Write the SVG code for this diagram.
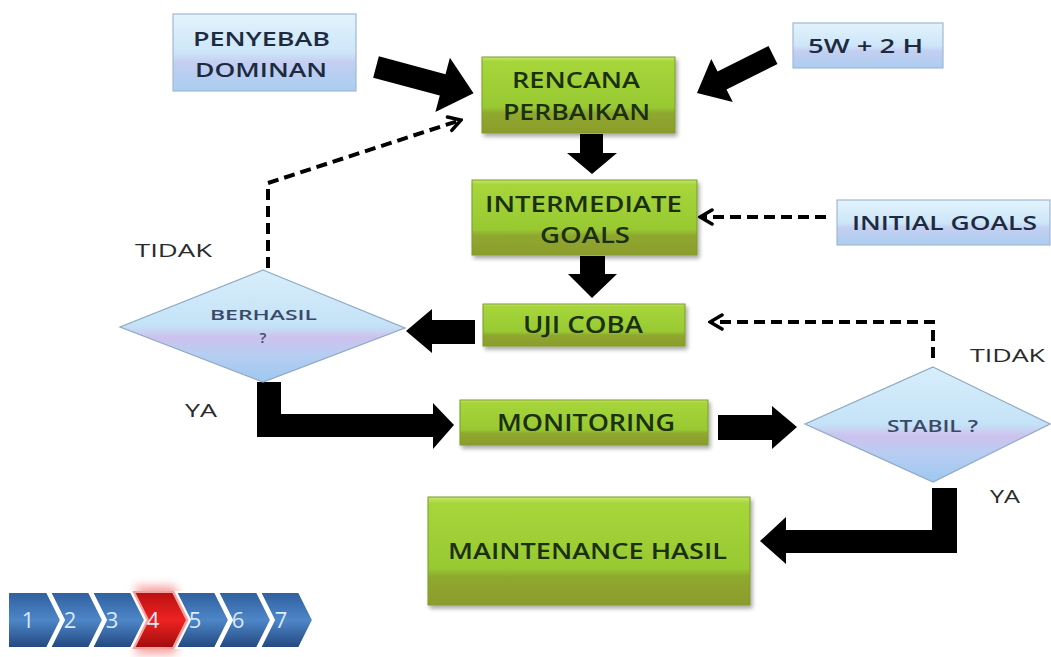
<svg xmlns="http://www.w3.org/2000/svg" width="1051" height="657" viewBox="0 0 1051 657">
<defs>
<linearGradient id="gGreen" x1="0" y1="0" x2="0" y2="1">
<stop offset="0" stop-color="#c6e86a"/>
<stop offset="0.06" stop-color="#a6d63a"/>
<stop offset="0.66" stop-color="#98c932"/>
<stop offset="0.74" stop-color="#8fa82e"/>
<stop offset="1" stop-color="#8c9c2c"/>
</linearGradient>
<linearGradient id="gBlue" x1="0" y1="0" x2="0" y2="1">
<stop offset="0" stop-color="#e2f3fc"/>
<stop offset="0.5" stop-color="#cde6f8"/>
<stop offset="0.62" stop-color="#c4cff2"/>
<stop offset="1" stop-color="#aacdf0"/>
</linearGradient>
<linearGradient id="gDia" x1="0" y1="0" x2="0" y2="1">
<stop offset="0" stop-color="#d8eefb"/>
<stop offset="0.5" stop-color="#c4e2f7"/>
<stop offset="0.6" stop-color="#cdc2ee"/>
<stop offset="0.75" stop-color="#b8cdf2"/>
<stop offset="1" stop-color="#9ec8f0"/>
</linearGradient>
<linearGradient id="gChev" x1="0" y1="0" x2="0" y2="1">
<stop offset="0" stop-color="#2f5f9e"/>
<stop offset="0.5" stop-color="#4d86c8"/>
<stop offset="1" stop-color="#22477e"/>
</linearGradient>
<linearGradient id="gRed" x1="0" y1="0" x2="0" y2="1">
<stop offset="0" stop-color="#b81010"/>
<stop offset="0.5" stop-color="#ee2222"/>
<stop offset="1" stop-color="#a00c0c"/>
</linearGradient>
<filter id="shadow" x="-10%" y="-20%" width="125%" height="150%">
<feGaussianBlur in="SourceAlpha" stdDeviation="2"/>
<feOffset dx="2" dy="3"/>
<feComponentTransfer><feFuncA type="linear" slope="0.35"/></feComponentTransfer>
<feMerge><feMergeNode/><feMergeNode in="SourceGraphic"/></feMerge>
</filter>
<filter id="glow" x="-50%" y="-50%" width="200%" height="200%">
<feGaussianBlur stdDeviation="5"/>
</filter>
<marker id="open" viewBox="0 0 16 18" refX="14" refY="9" markerWidth="16" markerHeight="18" markerUnits="userSpaceOnUse" orient="auto">
<path d="M2,2 L14,9 L2,16" fill="none" stroke="#000" stroke-width="3.5" stroke-linecap="round"/>
</marker>
<style>
.gbox{fill:url(#gGreen);stroke:#7f9a2a;stroke-width:1;filter:url(#shadow)}
.bbox{fill:url(#gBlue);stroke:#a4b8d0;stroke-width:1.2}
.dia{fill:url(#gDia);stroke:#8ea8c4;stroke-width:1.2}
.gt{font-family:"Open Sans","Liberation Sans",sans-serif;font-size:21px;font-weight:600;fill:#1a3010}
.bt{font-family:"Open Sans","Liberation Sans",sans-serif;font-size:20px;font-weight:600;fill:#1e2a40}
.dt{font-family:"Open Sans","Liberation Sans",sans-serif;font-size:15px;font-weight:600;fill:#3a4a66}
.lb{font-family:"Open Sans","Liberation Sans",sans-serif;font-size:19px;fill:#2a2a2a}
.blk{fill:#000}
.dash{fill:none;stroke:#000;stroke-width:4;stroke-dasharray:11 6;marker-end:url(#open)}
.chev{fill:url(#gChev);stroke:#ffffff;stroke-width:2}
.num{font-family:"Open Sans","Liberation Sans",sans-serif;font-size:22px;fill:#dbe9f8;text-anchor:middle}
</style>
</defs>
<rect width="1051" height="657" fill="#ffffff"/>

<g id="connectors">
<polygon class="blk" transform="translate(376,67) rotate(15)" points="0,-11 69,-11 69,-28 101,0 69,28 69,11 0,11"/>
<polygon class="blk" transform="translate(773,55) rotate(153.4)" points="0,-10 57,-10 57,-24 85,0 57,24 57,10 0,10"/>
<polygon class="blk" points="580,134 603,134 603,153 617,153 592,174 567,153 580,153"/>
<polygon class="blk" points="580,256 605,256 605,274 617,274 592,298 568,274 580,274"/>
<polygon class="blk" points="475,320 432,320 432,309 406,331 432,353 432,344 475,344"/>
<polygon class="blk" points="257,382 281,382 281,414 433,414 433,403 454,425 433,449 433,437 257,437"/>
<polygon class="blk" points="718,415 772,415 772,406 797,427 772,449 772,440 718,440"/>
<polygon class="blk" points="932,488 957,488 957,553 786,553 786,564 760,541 786,517 786,530 932,530"/>
<path class="dash" d="M268,268 V183 L461,120"/>
<path class="dash" d="M933,358 V322 H710"/>
<path class="dash" d="M826,217 H700"/>
</g>

<g id="node-penyebab">
<rect class="bbox" x="173" y="14" width="183" height="77"/>
<text class="bt" x="193" y="46" textLength="137" lengthAdjust="spacingAndGlyphs">PENYEBAB</text>
<text class="bt" x="195" y="77" textLength="132" lengthAdjust="spacingAndGlyphs">DOMINAN</text>
</g>

<g id="node-5w2h">
<rect class="bbox" x="793" y="23" width="150" height="45"/>
<text class="bt" x="808" y="53" textLength="115" lengthAdjust="spacingAndGlyphs">5W + 2 H</text>
</g>

<g id="node-initial">
<rect class="bbox" x="837" y="200" width="213" height="45"/>
<text class="bt" x="852" y="230" textLength="185" lengthAdjust="spacingAndGlyphs">INITIAL GOALS</text>
</g>

<g id="node-rencana">
<rect class="gbox" x="482" y="57" width="193" height="76"/>
<text class="gt" x="512" y="88" textLength="128" lengthAdjust="spacingAndGlyphs">RENCANA</text>
<text class="gt" x="503" y="120" textLength="147" lengthAdjust="spacingAndGlyphs">PERBAIKAN</text>
</g>

<g id="node-intermediate">
<rect class="gbox" x="472" y="180" width="225" height="75"/>
<text class="gt" x="485" y="212" textLength="197" lengthAdjust="spacingAndGlyphs">INTERMEDIATE</text>
<text class="gt" x="540" y="243" textLength="90" lengthAdjust="spacingAndGlyphs">GOALS</text>
</g>

<g id="node-ujicoba">
<rect class="gbox" x="483" y="304" width="202" height="42"/>
<text class="gt" x="523" y="333" style="font-size:23px" textLength="120" lengthAdjust="spacingAndGlyphs">UJI COBA</text>
</g>

<g id="node-monitoring">
<rect class="gbox" x="460" y="400" width="248" height="45"/>
<text class="gt" x="497" y="431" style="font-size:23px" textLength="178" lengthAdjust="spacingAndGlyphs">MONITORING</text>
</g>

<g id="node-maintenance">
<rect class="gbox" x="428" y="497" width="322" height="108"/>
<text class="gt" x="448" y="559" style="font-size:22px" textLength="279" lengthAdjust="spacingAndGlyphs">MAINTENANCE HASIL</text>
</g>

<g id="node-berhasil">
<polygon class="dia" points="263,270 405,328 263,382 120,327"/>
<text class="dt" x="210" y="320" textLength="107" lengthAdjust="spacingAndGlyphs">BERHASIL</text>
<text class="dt" x="263" y="343" text-anchor="middle">?</text>
</g>

<g id="node-stabil">
<polygon class="dia" points="933,367 1050,424 933,482 805,424"/>
<text class="dt" x="887" y="432" style="font-size:17px" textLength="91" lengthAdjust="spacingAndGlyphs">STABIL ?</text>
</g>

<g id="labels">
<text class="lb" x="135" y="257" textLength="77" lengthAdjust="spacingAndGlyphs">TIDAK</text>
<text class="lb" x="185" y="417" textLength="32" lengthAdjust="spacingAndGlyphs">YA</text>
<text class="lb" x="970" y="362" textLength="75" lengthAdjust="spacingAndGlyphs">TIDAK</text>
<text class="lb" x="990" y="503" textLength="30" lengthAdjust="spacingAndGlyphs">YA</text>
</g>

<g id="progress">
<polygon points="134,586 174,586 190,620 174,654 134,654 150,620" fill="#f27a7a" opacity="0.7" filter="url(#glow)"/>
<polygon class="chev" points="260,592 299,592 313,620 299,648 260,648 274,620"/>
<polygon class="chev" points="218,592 257,592 271,620 257,648 218,648 232,620"/>
<polygon class="chev" points="176,592 215,592 229,620 215,648 176,648 190,620"/>
<polygon class="chev" points="92,592 131,592 145,620 131,648 92,648 106,620"/>
<polygon class="chev" points="50,592 89,592 103,620 89,648 50,648 64,620"/>
<polygon class="chev" points="8,592 47,592 61,620 47,648 8,648"/>
<polygon points="134,592 173,592 187,620 173,648 134,648 148,620" fill="url(#gRed)" stroke="#f4a0a0" stroke-width="2"/>
<text class="num" x="28" y="628">1</text>
<text class="num" x="70" y="628">2</text>
<text class="num" x="112" y="628">3</text>
<text class="num" x="153" y="628">4</text>
<text class="num" x="195" y="628">5</text>
<text class="num" x="238" y="628">6</text>
<text class="num" x="281" y="628">7</text>
</g>
</svg>
